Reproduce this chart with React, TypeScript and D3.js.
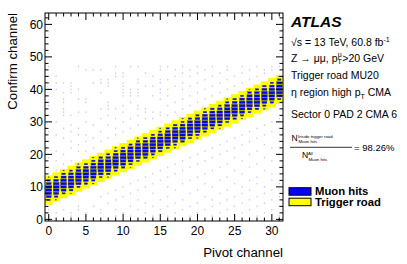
import React from 'react';
import * as d3 from 'd3';

// pivot channel -> first / last confirm channel of the trigger road
const roadLo = [5, 6, 7, 8, 9, 10, 11, 12, 13, 14, 15, 16, 17, 18, 19, 20, 21, 22, 23, 24, 25, 26, 27, 28, 29, 30, 31, 32, 33, 34, 35, 36];
const roadHi = [13, 14, 15, 16, 17, 18, 19, 20, 21, 22, 23, 24, 25, 26, 27, 28, 29, 30, 31, 32, 33, 34, 35, 36, 37, 38, 39, 40, 41, 42, 43, 44];

// muon hits inside the road, one row per pivot channel (from roadLo upwards)
const hits = [
  [0, 30, 70, 95, 100, 90, 70, 35, 5],
  [5, 35, 75, 95, 100, 95, 65, 30, 0],
  [0, 25, 70, 90, 100, 95, 75, 40, 5],
  [5, 40, 80, 100, 95, 85, 60, 25, 0],
  [0, 30, 75, 95, 100, 90, 70, 35, 5],
  [0, 35, 70, 90, 100, 95, 70, 30, 0],
  [5, 30, 75, 100, 95, 90, 65, 35, 5],
  [0, 25, 65, 90, 100, 95, 75, 40, 0],
  [5, 40, 80, 95, 100, 85, 60, 25, 0],
  [0, 30, 70, 95, 100, 90, 70, 30, 5],
  [0, 35, 75, 90, 100, 95, 65, 35, 0],
  [5, 30, 70, 100, 95, 90, 75, 30, 0],
  [0, 25, 70, 95, 100, 90, 70, 40, 5],
  [0, 40, 80, 95, 100, 85, 65, 30, 0],
  [5, 30, 75, 90, 100, 95, 70, 35, 0],
  [0, 35, 70, 95, 100, 90, 60, 25, 5],
  [0, 30, 75, 100, 95, 90, 70, 30, 0],
  [5, 25, 65, 90, 100, 95, 75, 40, 0],
  [0, 40, 80, 95, 100, 85, 65, 30, 5],
  [0, 30, 70, 90, 100, 95, 70, 35, 0],
  [5, 35, 75, 95, 100, 90, 65, 30, 0],
  [0, 30, 70, 100, 95, 90, 75, 35, 5],
  [0, 25, 70, 95, 100, 90, 70, 40, 0],
  [5, 40, 75, 90, 100, 95, 60, 25, 0],
  [0, 30, 80, 95, 100, 85, 70, 30, 5],
  [0, 35, 70, 95, 100, 90, 65, 35, 0],
  [5, 30, 75, 90, 100, 95, 70, 30, 0],
  [0, 25, 65, 95, 100, 90, 75, 40, 5],
  [0, 40, 80, 100, 95, 85, 65, 30, 0],
  [5, 30, 70, 90, 100, 95, 70, 35, 0],
  [0, 35, 75, 95, 100, 90, 60, 30, 0],
  [0, 30, 70, 95, 100, 90, 70, 35, 5],
];

// sparse hits outside the road (confirm channels per pivot channel)
const strayHits = [
  [0, 1, 3, 16, 19, 22, 24, 27, 32, 35, 36, 38, 40, 42, 44, 47],
  [2, 15, 18, 21, 26, 30, 40, 42, 44],
  [0, 3, 17, 20, 25, 28, 32, 33, 34, 36, 37, 39, 42],
  [1, 2, 18, 22, 24, 27, 29, 32, 39, 40, 41, 42],
  [0, 3, 4, 21, 23, 26, 28, 33, 37, 40, 47],
  [1, 2, 21, 24, 26, 30, 33, 36, 37, 46],
  [0, 4, 22, 25, 29, 42, 46],
  [2, 3, 7, 24, 27, 31, 34, 39, 42, 43, 46],
  [0, 5, 8, 25, 29, 32, 34, 35, 36, 41, 42, 43],
  [1, 3, 6, 9, 26, 28, 31, 34, 44, 45, 47],
  [0, 2, 7, 10, 27, 30, 33, 35, 38, 39, 40, 41, 42, 44, 45],
  [1, 4, 8, 11, 28, 31, 36, 38, 39, 40, 47],
  [0, 3, 6, 9, 12, 29, 32, 34, 35, 38, 39, 40, 42, 43, 47],
  [2, 5, 10, 13, 31, 33, 34, 41, 45],
  [0, 1, 4, 8, 11, 14, 31, 33, 38, 41, 44],
  [0, 3, 6, 12, 15, 32, 33, 37, 39, 40, 42, 43, 46, 47],
  [1, 4, 7, 10, 13, 16, 32, 35, 38, 40, 43, 47],
  [0, 2, 5, 9, 14, 17, 33, 36, 41, 44, 46],
  [3, 6, 11, 15, 18, 34, 37, 40, 42, 45, 47],
  [0, 1, 4, 8, 12, 16, 19, 35, 38, 41, 44, 46],
  [2, 5, 9, 13, 17, 20, 36, 39, 42, 45, 47],
  [0, 3, 7, 11, 14, 18, 21, 37, 40, 43, 46],
  [1, 4, 6, 10, 15, 19, 22, 38, 41, 44, 47],
  [0, 2, 5, 8, 12, 16, 20, 23, 39, 42, 45],
  [3, 6, 9, 13, 17, 21, 24, 40, 43, 46, 47],
  [0, 1, 4, 7, 11, 15, 19, 22, 25, 41, 44],
  [2, 5, 8, 10, 14, 18, 23, 26, 42, 45, 47],
  [0, 3, 6, 9, 12, 16, 20, 24, 27, 43, 46],
  [1, 4, 7, 11, 13, 17, 21, 25, 28, 44, 47],
  [0, 2, 5, 8, 10, 15, 19, 23, 26, 29, 45, 46],
  [3, 6, 9, 12, 14, 18, 22, 27, 30, 46, 47],
  [0, 1, 4, 7, 11, 16, 20, 24, 28, 31, 47],
];

const xTickLabels = [0, 5, 10, 15, 20, 25, 30];
const yTickLabels = [0, 10, 20, 30, 40, 50, 60];
const legendItems = [
  { label: 'Muon hits', color: '#0000ff' },
  { label: 'Trigger road', color: '#ffff00' },
];
const efficiency = '98.26%';

const FONT = "'Liberation Sans', Arial, Helvetica, sans-serif";

export default function App() {
  const W = 407, H = 264;
  const frame = { left: 45, right: 283, top: 13, bottom: 221 };

  const x = d3.scaleLinear().domain([-0.5, 31.5]).range([frame.left, frame.right]);
  const y = d3.scaleLinear().domain([-0.5, 63.5]).range([frame.bottom, frame.top]);
  const bw = x(1) - x(0);
  const bh = y(0) - y(1);
  const boxSize = d3.scaleSqrt().domain([0, 100]).range([0, 0.8]);

  const xMinor = d3.range(0, 32);
  const yMinor = d3.range(0, 64, 2);

  return (
    <div style={{ position: 'absolute', left: 0, top: 0 }}>
      <svg width={W} height={H} style={{ display: 'block', background: '#fff' }} fontFamily={FONT}>
        {/* trigger road */}
        {roadLo.map((lo, p) => (
          <rect key={'r' + p} x={x(p - 0.5)} y={y(roadHi[p] + 0.5)}
            width={bw + 0.3} height={y(lo - 0.5) - y(roadHi[p] + 0.5)} fill="#ffff00" />
        ))}

        {/* stray hits */}
        {strayHits.map((col, p) => col.map(c => (
          <rect key={'s' + p + '-' + c} x={x(p) - 0.6} y={y(c) - 0.8} width={1.2} height={1.6}
            fill="#7070ff" opacity={0.38} />
        )))}

        {/* muon hits */}
        {hits.map((col, p) => col.map((v, i) => {
          if (v <= 0) return null;
          const f = boxSize(v);
          const c = roadLo[p] + i;
          return (
            <rect key={'h' + p + '-' + i} x={x(p) - bw * f / 2} y={y(c) - bh * f / 2}
              width={bw * f} height={bh * f} fill="#0000ff" stroke="#404060" strokeWidth={0.35} />
          );
        }))}

        {/* frame */}
        <rect x={frame.left} y={frame.top} width={frame.right - frame.left} height={frame.bottom - frame.top}
          fill="none" stroke="#000" strokeWidth={1} />

        {/* x ticks, bottom and top */}
        {xMinor.map(v => {
          const len = v % 5 === 0 ? 7 : 3.5;
          return (
            <g key={'xt' + v} stroke="#000" strokeWidth={1}>
              <line x1={x(v)} x2={x(v)} y1={frame.bottom} y2={frame.bottom - len} />
              <line x1={x(v)} x2={x(v)} y1={frame.top} y2={frame.top + len} />
            </g>
          );
        })}
        {/* y ticks, left and right */}
        {yMinor.map(v => {
          const len = v % 10 === 0 ? 7 : 3.5;
          return (
            <g key={'yt' + v} stroke="#000" strokeWidth={1}>
              <line x1={frame.left} x2={frame.left + len} y1={y(v)} y2={y(v)} />
              <line x1={frame.right} x2={frame.right - len} y1={y(v)} y2={y(v)} />
            </g>
          );
        })}

        {xTickLabels.map(v => (
          <text key={'xl' + v} x={x(v)} y={235} textAnchor="middle" fontSize={12}>{v}</text>
        ))}
        {yTickLabels.map(v => (
          <text key={'yl' + v} x={43} y={y(v) + 4.3} textAnchor="end" fontSize={12}>{v}</text>
        ))}

        <text x={frame.right} y={257} textAnchor="end" fontSize={13.3}>Pivot channel</text>
        <text transform={`translate(16.5,${frame.top}) rotate(-90)`} textAnchor="end" fontSize={13.3}>Confirm channel</text>

        {/* labels */}
        <text x={291} y={26.7} fontSize={15.5} fontWeight="bold" fontStyle="italic">ATLAS</text>
        <text x={291} y={45.5} fontSize={10.5}>
          √s = 13 TeV, 60.8 fb<tspan dy={-4} fontSize={7}>-1</tspan>
        </text>
        <text x={291} y={61.5} fontSize={10.5}>
          Z → μμ, p<tspan dy={2.5} fontSize={7}>T</tspan>
          <tspan dx={-4} dy={-7} fontSize={7}>μ</tspan>
          <tspan dx={0.5} dy={4.5} fontSize={10.5}>&gt;20 GeV</tspan>
        </text>
        <text x={291} y={79} fontSize={10.5}>Trigger road MU20</text>
        <text x={291} y={96} fontSize={10.5}>
          η region high p<tspan dy={2.5} fontSize={7}>T</tspan>
          <tspan dy={-2.5} fontSize={10.5}> CMA</tspan>
        </text>
        <text x={291} y={117.5} fontSize={10.5}>Sector 0 PAD 2 CMA 6</text>

        {/* efficiency fraction */}
        <text x={291.5} y={140.7} fontSize={8.5}>N</text>
        <text x={298} y={137.5} fontSize={4.3}>Inside trigger road</text>
        <text x={298.5} y={143.3} fontSize={4.3}>Muon hits</text>
        <line x1={290} x2={352} y1={147.3} y2={147.3} stroke="#000" strokeWidth={0.8} />
        <text x={302} y={158.2} fontSize={8.5}>N</text>
        <text x={308} y={155} fontSize={4.3}>All</text>
        <text x={308.5} y={161} fontSize={4.3}>Muon hits</text>
        <text x={354} y={150.6} fontSize={9.5}>= {efficiency}</text>

        {/* legend */}
        {legendItems.map((d, i) => (
          <g key={d.label} transform={`translate(289,${187.7 + i * 10.5})`}>
            <rect x={0} y={0} width={22} height={7.5} fill={d.color} stroke="#000" strokeWidth={1} />
            <text x={26} y={7.5} fontSize={11.3} fontWeight="bold">{d.label}</text>
          </g>
        ))}
      </svg>
    </div>
  );
}
